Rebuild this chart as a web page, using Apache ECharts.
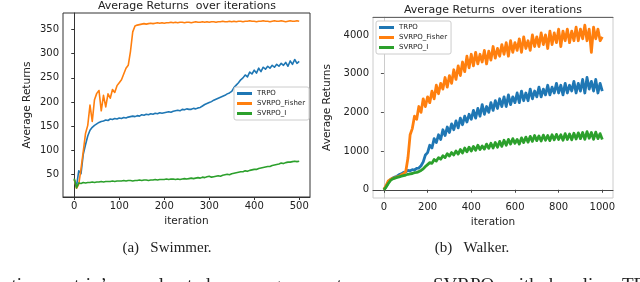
<!DOCTYPE html>
<html><head><meta charset="utf-8">
<script src="https://cdn.jsdelivr.net/npm/echarts@6/dist/echarts.min.js"></script>
<style>html,body{margin:0;padding:0;background:#fff}#c{width:640px;height:282px}</style>
</head><body><div id="c"></div>
<script>
// ---------- Swimmer (iterations 0..500, every 5) ----------
const swimStep = 5;
const swimTicksX = [0, 100, 200, 300, 400, 500];
const swimTicksY = [50, 100, 150, 200, 250, 300, 350];
const swimTRPO = [
  40,26,58,52,92,112,130,142,148,152,
  155,158,160,161,163,162,165,164,166,165,
  167,166,168,167,169,170,171,170,172,171,
  174,173,175,174,176,175,177,176,178,177,
  178,179,180,179,181,182,183,182,185,184,
  186,185,185,187,186,188,189,192,195,197,
  199,201,204,206,208,210,212,214,217,219,
  222,230,235,240,246,250,256,252,262,258,
  266,260,270,263,272,268,274,270,276,272,
  278,274,280,276,282,274,285,278,288,280,
  284
];
const swimFisher = [
  40,22,30,62,98,135,152,194,160,205,
  218,224,182,214,190,217,208,226,220,234,
  240,246,258,270,276,305,345,357,359,360,
  361,362,361,362,363,362,363,364,363,364,
  363,364,364,365,364,365,364,365,365,364,
  365,365,364,365,366,365,365,366,365,366,
  365,366,366,365,366,366,367,366,366,367,
  366,367,366,367,367,366,367,367,368,367,
  367,366,367,367,368,367,367,366,367,368,
  367,367,368,367,366,367,368,367,367,368,
  367
];
const swimI = [
  42,23,33,32,34,33,34,34,35,34,
  35,35,36,35,36,36,36,37,36,37,
  37,37,38,37,38,38,37,38,38,39,
  38,39,39,38,39,39,40,39,40,40,
  40,41,40,41,41,40,41,40,41,42,
  41,42,43,42,43,44,43,45,44,46,
  47,45,46,47,48,47,49,50,51,50,
  52,53,54,55,56,56,58,57,59,60,
  61,61,63,64,65,66,67,67,69,70,
  71,72,74,73,75,76,76,77,78,77,
  78
];

// ---------- Walker (iterations 0..1000, every 10) ----------
const walkStep = 10;
const walkTicksX = [0, 200, 400, 600, 800, 1000];
const walkTicksY = [0, 1000, 2000, 3000, 4000];
const walkTRPO = [
  0,90,190,260,300,330,350,390,410,450,
  460,500,490,520,510,550,560,620,720,900,
  960,1150,1080,1320,1220,1420,1300,1550,1400,1620,
  1480,1700,1550,1780,1600,1850,1680,1900,1750,1950,
  1820,2050,1850,2100,1900,2200,1950,2150,2000,2250,
  2050,2300,2100,2350,2150,2400,2150,2450,2200,2400,
  2250,2500,2250,2550,2300,2500,2300,2600,2350,2550,
  2400,2650,2400,2600,2450,2700,2450,2650,2500,2750,
  2500,2700,2450,2750,2500,2700,2550,2800,2500,2750,
  2550,2850,2500,2900,2600,2800,2550,2850,2500,2750,
  2550
];
const walkFisher = [
  0,110,230,265,300,310,335,345,385,415,
  470,820,1420,1580,1900,1820,2150,2000,2350,2150,
  2400,2250,2550,2350,2700,2480,2750,2600,2900,2650,
  2950,2750,3100,2850,3200,2950,3300,3050,3450,3150,
  3500,3200,3550,3250,3500,3300,3600,3250,3580,3350,
  3700,3400,3650,3450,3750,3500,3800,3450,3850,3550,
  3800,3600,3900,3550,3950,3650,3850,3600,4000,3700,
  3950,3700,4050,3750,4000,3650,4100,3750,4050,3800,
  4150,3700,4100,3850,4150,3800,4100,3850,4200,3850,
  4150,3900,4250,3850,4150,3550,4200,3900,4150,3850,
  3950
];
const walkI = [
  0,70,160,240,280,300,320,335,350,365,
  380,400,410,420,440,450,470,500,540,600,
  650,700,680,780,740,830,790,880,830,930,
  870,960,900,1000,920,1040,950,1080,980,1100,
  1000,1120,1020,1150,1040,1130,1050,1180,1070,1200,
  1080,1220,1100,1250,1120,1280,1150,1300,1180,1320,
  1200,1300,1180,1340,1220,1360,1230,1380,1250,1400,
  1270,1390,1260,1410,1280,1400,1270,1420,1290,1430,
  1300,1420,1280,1450,1300,1440,1290,1460,1310,1470,
  1320,1480,1300,1500,1330,1480,1300,1490,1320,1450,
  1300
];

const names = ['TRPO', 'SVRPO_Fisher', 'SVRPO_I'];
const colors = ['#1f77b4', '#ff7f0e', '#2ca02c'];
const titleText = 'Average Returns  over iterations';
const captionA = '(a)   Swimmer.';
const captionB = '(b)   Walker.';
const bodyWords = ['ation', 'matrix\u2019s', 'accelerated', 'convergence', 'rates', 'on', 'our', 'SVRPO', 'with', 'baseline', 'TRPO'];
const bodyWordX = [3, 51, 125, 220, 322, 369, 398, 433, 505, 549, 622];

const FONT = 'DejaVu Sans';
const chart = echarts.init(document.getElementById('c'), null, {renderer: 'canvas'});

function toPairs(arr, step) { return arr.map((v, i) => [i * step, v]); }

function mkSeries(arr, step, idx, gi, w) {
  return {
    type: 'line', name: names[idx], xAxisIndex: gi, yAxisIndex: gi,
    data: toPairs(arr, step), showSymbol: false, symbol: 'none', animation: false,
    lineStyle: {color: colors[idx], width: w, join: 'round'}, itemStyle: {color: colors[idx]}, z: 2 + idx
  };
}

const plain = v => String(v);
const tickLabel = {fontSize: 10, color: '#222', fontFamily: FONT, formatter: plain};
const nameStyle = {fontSize: 10.5, color: '#222', fontFamily: FONT};

function legendAt(left, top) {
  return {
    orient: 'vertical', left: left, top: top, itemWidth: 15, itemHeight: 3, itemGap: 3,
    padding: [3, 4, 3, 3], backgroundColor: '#fff', borderColor: '#ccc', borderWidth: 1, borderRadius: 2,
    icon: 'rect', textStyle: {fontSize: 7, color: '#222', fontFamily: FONT}, itemStyle: {borderWidth: 0},
    data: names, selectedMode: false
  };
}

const graphics = [
  {type: 'text', x: 187, y: 6, style: {text: titleText, font: '11px "DejaVu Sans"', fill: '#222', textAlign: 'center', textVerticalAlign: 'middle'}},
  {type: 'text', x: 493, y: 10, style: {text: titleText, font: '11px "DejaVu Sans"', fill: '#222', textAlign: 'center', textVerticalAlign: 'middle'}},
  {type: 'text', x: 167, y: 248, style: {text: captionA, font: '15px "Liberation Serif"', fill: '#222', textAlign: 'center', textVerticalAlign: 'middle'}},
  {type: 'text', x: 472, y: 248, style: {text: captionB, font: '15px "Liberation Serif"', fill: '#222', textAlign: 'center', textVerticalAlign: 'middle'}}
];
bodyWords.forEach((w, i) => graphics.push({type: 'text', x: bodyWordX[i], y: 286,
  style: {text: w, font: '19px "Liberation Serif"', fill: '#222', textAlign: 'left', textVerticalAlign: 'middle'}}));

chart.setOption({
  animation: false,
  backgroundColor: '#fff',
  grid: [
    {left: 63, top: 13, width: 247, height: 184, show: true, borderColor: '#333', borderWidth: 1},
    {left: 373, top: 17, width: 240, height: 181, show: true, borderColor: '#ccc', borderWidth: 1}
  ],
  legend: [legendAt(234, 87), legendAt(376, 21)],
  xAxis: [
    {gridIndex: 0, type: 'value', min: -25, max: 524, name: 'iteration', nameLocation: 'middle', nameGap: 16,
     nameTextStyle: nameStyle, splitLine: {show: false},
     axisLine: {show: true, lineStyle: {color: '#333'}},
     axisTick: {show: true, length: 3, lineStyle: {color: '#333'}, customValues: swimTicksX},
     axisLabel: {customValues: swimTicksX, margin: 4, ...tickLabel}},
    {gridIndex: 1, type: 'value', min: -50, max: 1049, name: 'iteration', nameLocation: 'middle', nameGap: 16,
     nameTextStyle: nameStyle, splitLine: {show: false},
     axisLine: {show: true, lineStyle: {color: '#444'}},
     axisTick: {show: true, length: 3, lineStyle: {color: '#444'}, customValues: walkTicksX},
     axisLabel: {customValues: walkTicksX, margin: 4, ...tickLabel}},
    {gridIndex: 1, type: 'value', position: 'top', min: -50, max: 1049, splitLine: {show: false},
     axisLine: {show: true, lineStyle: {color: '#666'}}, axisTick: {show: false}, axisLabel: {show: false}}
  ],
  yAxis: [
    {gridIndex: 0, type: 'value', min: 4, max: 384, name: 'Average Returns', nameLocation: 'middle', nameGap: 30,
     nameTextStyle: nameStyle, splitLine: {show: false},
     axisLine: {show: true, lineStyle: {color: '#333'}},
     axisTick: {show: true, length: 3, lineStyle: {color: '#333'}, customValues: swimTicksY},
     axisLabel: {customValues: swimTicksY, margin: 4, ...tickLabel}},
    {gridIndex: 1, type: 'value', min: -213, max: 4463, name: 'Average Returns', nameLocation: 'middle', nameGap: 40,
     nameTextStyle: nameStyle, splitLine: {show: false},
     axisLine: {show: true, lineStyle: {color: '#ccc'}},
     axisTick: {show: true, length: 3, lineStyle: {color: '#555'}, customValues: walkTicksY},
     axisLabel: {customValues: walkTicksY, margin: 4, ...tickLabel}}
  ],
  series: [
    mkSeries(swimTRPO, swimStep, 0, 0, 1.6),
    mkSeries(swimFisher, swimStep, 1, 0, 1.6),
    mkSeries(swimI, swimStep, 2, 0, 1.6),
    mkSeries(walkTRPO, walkStep, 0, 1, 2.8),
    mkSeries(walkFisher, walkStep, 1, 1, 2.8),
    mkSeries(walkI, walkStep, 2, 1, 2.8)
  ],
  graphic: graphics
});
</script></body></html>
